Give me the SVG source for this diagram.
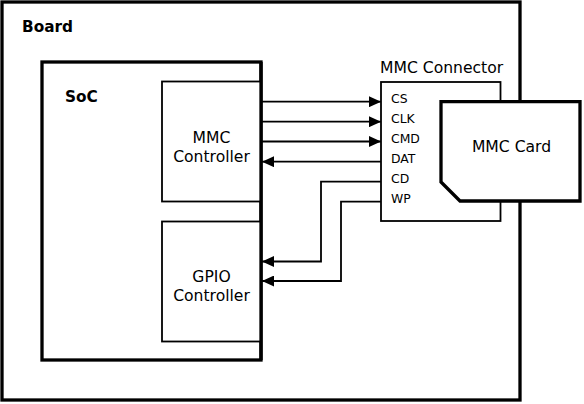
<svg xmlns="http://www.w3.org/2000/svg" width="584" height="404" viewBox="0 0 584 404">
<style>
.thick{stroke:#000;stroke-width:3.3}
.thin{stroke:#000;stroke-width:1.8}
.wire{fill:none;stroke:#000;stroke-width:1.8}
.w{fill:#fff}
text{font-family:"DejaVu Sans",sans-serif;fill:#000}
.b{font-weight:bold;font-size:15.3px}
.n{font-size:15.6px}
.pin{font-size:12.4px}
</style>
<defs>
<marker id="ah" markerUnits="userSpaceOnUse" markerWidth="12" markerHeight="11" refX="12" refY="5.5" orient="auto">
<path d="M0,0 L12,5.5 L0,11 Z" fill="#000"/>
</marker>
</defs>
<rect width="584" height="404" fill="#fff"/>
<g id="board">
<rect class="thick w" x="2" y="2" width="518" height="398"/>
<text class="b" x="22" y="32">Board</text>
</g>
<g id="soc">
<rect class="thick w" x="42" y="62" width="219" height="298"/>
<text class="b" x="65" y="102">SoC</text>
</g>
<g id="mmc-controller">
<rect class="thin w" x="162" y="81.5" width="99" height="120"/>
<text class="n" x="211.5" y="142.5" text-anchor="middle">MMC</text>
<text class="n" x="211.5" y="161.5" text-anchor="middle">Controller</text>
</g>
<g id="gpio-controller">
<rect class="thin w" x="162" y="221.5" width="99" height="120"/>
<text class="n" x="211.5" y="281.5" text-anchor="middle">GPIO</text>
<text class="n" x="211.5" y="300.5" text-anchor="middle">Controller</text>
</g>
<g id="soc-edge">
<line class="thick" x1="261" y1="62" x2="261" y2="360"/>
</g>
<g id="mmc-connector">
<rect class="thin w" x="381" y="82" width="119.5" height="139"/>
<text class="n" x="380" y="72.5">MMC Connector</text>
<text class="pin" x="391" y="102.5">CS</text>
<text class="pin" x="391" y="122.5">CLK</text>
<text class="pin" x="391" y="142.5">CMD</text>
<text class="pin" x="391" y="162.5">DAT</text>
<text class="pin" x="391" y="182.5">CD</text>
<text class="pin" x="391" y="202.5">WP</text>
</g>
<g id="mmc-card">
<path class="thick w" d="M441,101.7 H580 V201 H460 L441,182 Z"/>
<text class="n" x="511.5" y="152" text-anchor="middle">MMC Card</text>
</g>
<g id="connectors">
<line class="wire" x1="262" y1="101.7" x2="381" y2="101.7" marker-end="url(#ah)"/>
<line class="wire" x1="262" y1="121.7" x2="381" y2="121.7" marker-end="url(#ah)"/>
<line class="wire" x1="262" y1="141.5" x2="381" y2="141.5" marker-end="url(#ah)"/>
<line class="wire" x1="381" y1="161.7" x2="262" y2="161.7" marker-end="url(#ah)"/>
<polyline class="wire" points="381,181.7 321,181.7 321,261.5 262,261.5" marker-end="url(#ah)"/>
<polyline class="wire" points="381,201.7 341,201.7 341,281 262,281" marker-end="url(#ah)"/>
</g>
</svg>
